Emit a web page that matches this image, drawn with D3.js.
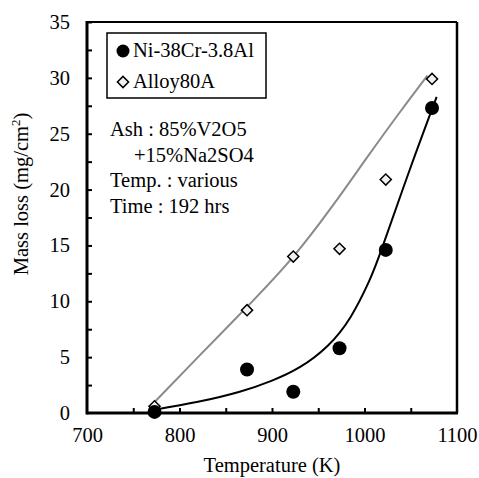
<!DOCTYPE html>
<html>
<head>
<meta charset="utf-8">
<script src="https://cdn.jsdelivr.net/npm/d3@7"></script>
<style>
  body { margin: 0; background: #fff; }
</style>
</head>
<body>
<script>
// measured points
const temps = [773, 873, 923, 973, 1023, 1073]
const niCr = [0.1, 3.9, 1.9, 5.8, 14.6, 27.3]
const alloy80A = [0.6, 9.2, 14.0, 14.7, 20.9, 29.9]

// trend lines
const niCrFitT = [773, 820, 865, 900, 930, 960, 985, 1005, 1020, 1049, 1078]
const niCrFitV = [0.3, 1.0, 1.9, 2.9, 4.1, 6.0, 8.6, 11.8, 15.0, 21.8, 28.3]
const alloyFitT = [771, 820, 873, 923, 966, 1003, 1038, 1068]
const alloyFitV = [0.8, 5.0, 9.5, 14.0, 18.6, 22.9, 26.9, 30.2]

const xTicks = [700, 800, 900, 1000, 1100]
const xMinor = [750, 850, 950, 1050]
const yTicks = [0, 5, 10, 15, 20, 25, 30, 35]
const yMinor = [2.5, 7.5, 12.5, 17.5, 22.5, 27.5, 32.5]

const legendLabels = ['Ni-38Cr-3.8Al', 'Alloy80A']
const noteLines = ['Ash : 85%V2O5', '+15%Na2SO4', 'Temp. : various', 'Time : 192 hrs']

const w = 479
const h = 478
const padL = 87, padR = 457, padT = 22, padB = 413
const serif = '"Liberation Serif", "Times New Roman", serif'
const fs = 20.5

const svg = d3.select('body')
    .append('svg')
    .attr('width', w)
    .attr('height', h)

const xScale = d3.scaleLinear().domain([700, 1100]).range([padL, padR])
const yScale = d3.scaleLinear().domain([0, 35]).range([padB, padT])

// frame
svg.append('line').attr('x1', padL).attr('x2', padR).attr('y1', padT).attr('y2', padT)
    .attr('stroke', '#000').attr('stroke-width', 2)
svg.append('line').attr('x1', padR).attr('x2', padR).attr('y1', padT).attr('y2', padB)
    .attr('stroke', '#000').attr('stroke-width', 2.5)

// axes, ticks drawn inward
const xAxis = d3.axisBottom(xScale).tickValues(xTicks).tickSize(-5).tickPadding(14).tickFormat(d3.format('d'))
const yAxis = d3.axisLeft(yScale).tickValues(yTicks).tickSize(-5).tickPadding(17)

const gx = svg.append('g')
    .attr('transform', 'translate(0,' + padB + ')')
    .call(xAxis)
const gy = svg.append('g')
    .attr('transform', 'translate(' + padL + ',0)')
    .call(yAxis)

gx.selectAll('.tick').filter(d => d == 700 || d == 1100).select('line').remove()
gy.selectAll('.tick').filter(d => d == 0).select('line').remove()

svg.append('g')
    .attr('transform', 'translate(0,' + padB + ')')
    .call(d3.axisBottom(xScale).tickValues(xMinor).tickSize(-5).tickFormat(''))
svg.append('g')
    .attr('transform', 'translate(' + padL + ',0)')
    .call(d3.axisLeft(yScale).tickValues(yMinor).tickSize(-5).tickFormat(''))

svg.selectAll('.domain').remove()
svg.selectAll('g').attr('font-family', serif).attr('font-size', fs)
svg.selectAll('.tick line').attr('stroke', '#000').attr('stroke-width', 2)

svg.append('line').attr('x1', padL).attr('x2', padR + 1).attr('y1', padB).attr('y2', padB)
    .attr('stroke', '#000').attr('stroke-width', 3)
svg.append('line').attr('x1', padL).attr('x2', padL).attr('y1', padT - 1).attr('y2', padB + 1.5)
    .attr('stroke', '#000').attr('stroke-width', 3)

// axis titles
svg.append('text')
    .attr('x', (padL + padR) / 2)
    .attr('y', 472)
    .attr('text-anchor', 'middle')
    .text('Temperature (K)')

const yt = svg.append('text')
    .attr('transform', 'translate(28,194) rotate(-90)')
    .attr('text-anchor', 'middle')
yt.append('tspan').text('Mass loss (mg/cm')
yt.append('tspan').attr('dy', -8).attr('font-size', 13).text('2')
yt.append('tspan').attr('dy', 8).text(')')

// fit lines
const line = d3.line()
    .x(d => xScale(d[0]))
    .y(d => yScale(d[1]))
    .curve(d3.curveNatural)

svg.append('path')
    .datum(alloyFitT.map((t, i) => [t, alloyFitV[i]]))
    .attr('d', line)
    .attr('fill', 'none')
    .attr('stroke', '#8a8a8a')
    .attr('stroke-width', 2)

svg.append('path')
    .datum(niCrFitT.map((t, i) => [t, niCrFitV[i]]))
    .attr('d', line)
    .attr('fill', 'none')
    .attr('stroke', '#000')
    .attr('stroke-width', 2)

// markers
const diamond = d3.symbol().type(d3.symbolSquare).size(62)

svg.selectAll('.dia')
    .data(temps)
    .enter()
    .append('path')
    .attr('class', 'dia')
    .attr('d', diamond)
    .attr('transform', (d, i) => 'translate(' + xScale(d) + ',' + yScale(alloy80A[i]) + ') rotate(45)')
    .attr('fill', '#f0f0f0')
    .attr('stroke', '#000')
    .attr('stroke-width', 1.5)

svg.selectAll('.dot')
    .data(temps)
    .enter()
    .append('circle')
    .attr('class', 'dot')
    .attr('cx', d => xScale(d))
    .attr('cy', (d, i) => yScale(niCr[i]))
    .attr('r', 7)
    .attr('fill', '#000')

// legend
svg.append('rect')
    .attr('x', 107).attr('y', 33)
    .attr('width', 159).attr('height', 65)
    .attr('fill', '#fff')
    .attr('stroke', '#000')
    .attr('stroke-width', 1.5)

svg.append('circle').attr('cx', 123).attr('cy', 51).attr('r', 6.5).attr('fill', '#000')
svg.append('path')
    .attr('d', diamond)
    .attr('transform', 'translate(123,82) rotate(45)')
    .attr('fill', '#f0f0f0')
    .attr('stroke', '#000')
    .attr('stroke-width', 1.5)

svg.selectAll('.leg')
    .data(legendLabels)
    .enter()
    .append('text')
    .attr('class', 'leg')
    .attr('x', 133)
    .attr('y', (d, i) => 57 + i * 31)
    .text(d => d)

// note
svg.selectAll('.note')
    .data(noteLines)
    .enter()
    .append('text')
    .attr('class', 'note')
    .attr('x', (d, i) => i == 1 ? 134 : 110)
    .attr('y', (d, i) => 136 + i * 25.5)
    .text(d => d)

svg.selectAll('text')
    .style('font-family', serif)
    .attr('fill', '#000')
svg.selectAll('text:not(tspan)').filter(function () { return !this.getAttribute('font-size') }).attr('font-size', fs)
</script>
</body>
</html>
